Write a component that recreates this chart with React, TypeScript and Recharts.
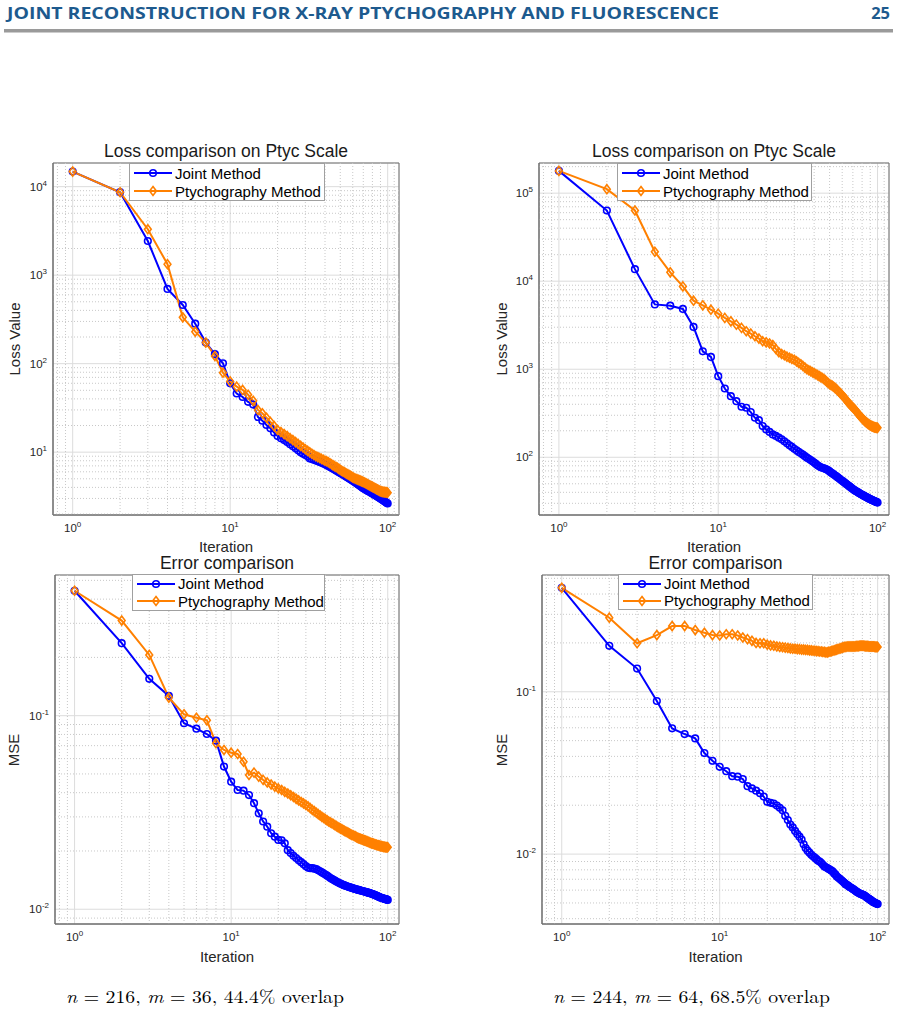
import { LineChart, Line, XAxis, YAxis, CartesianGrid, ReferenceLine, ReferenceArea, Legend } from 'recharts';

const FONT = '"Liberation Sans", Arial, Helvetica, sans-serif';
const JOINT_COLOR = '#0000ff';
const PTYC_COLOR = '#ff8000';

// iteration is the position in each array (1..100)
const lossJointA = [
  14800, 8650, 2430, 698, 460, 283, 173, 128, 101, 60,
  46, 42, 37, 34.5, 25, 22.7, 20.3, 18.6, 16.7, 15.2,
  14.4, 13.7, 13.0, 12.3, 11.7, 11.1, 10.5, 10.0, 9.6, 9.3,
  9.0, 8.5, 8.35, 8.2, 8.05, 7.9, 7.75, 7.6, 7.45, 7.3,
  7.13, 6.97, 6.81, 6.66, 6.51, 6.36, 6.22, 6.08, 5.94, 5.8,
  5.69, 5.58, 5.47, 5.36, 5.25, 5.15, 5.05, 4.95, 4.85, 4.76,
  4.66, 4.57, 4.48, 4.39, 4.31, 4.22, 4.14, 4.06, 3.98, 3.9,
  3.85, 3.8, 3.75, 3.7, 3.65, 3.6, 3.56, 3.51, 3.46, 3.42,
  3.37, 3.33, 3.29, 3.24, 3.2, 3.16, 3.12, 3.08, 3.04, 3.0,
  2.96, 2.92, 2.88, 2.84, 2.81, 2.77, 2.73, 2.7, 2.66, 2.63,
];
const lossPtycA = [
  14800, 8650, 3300, 1330, 334, 230, 173, 122, 79, 63,
  55, 50.5, 44.5, 38, 30, 27.5, 24.5, 22, 19.7, 17.8,
  16.9, 16.0, 15.2, 14.4, 13.7, 13.0, 12.4, 11.8, 11.3, 10.8,
  10.35, 9.95, 9.6, 9.3, 9.0, 8.8, 8.6, 8.4, 8.2, 8.0,
  7.9, 7.7, 7.5, 7.3, 7.1, 6.95, 6.8, 6.65, 6.48, 6.3,
  6.17, 6.05, 5.93, 5.82, 5.71, 5.6, 5.5, 5.4, 5.3, 5.2,
  5.12, 5.04, 4.98, 4.92, 4.87, 4.82, 4.76, 4.7, 4.65, 4.6,
  4.54, 4.48, 4.42, 4.37, 4.31, 4.26, 4.2, 4.15, 4.1, 4.05,
  4.0, 3.96, 3.91, 3.87, 3.83, 3.78, 3.74, 3.7, 3.66, 3.63,
  3.6, 3.58, 3.56, 3.55, 3.54, 3.53, 3.52, 3.51, 3.5, 3.49,
];
const lossJointB = [
  179000, 63500, 13700, 5450, 5270, 4840, 3020, 1600, 1380, 834,
  604, 494, 434, 375, 365, 326, 281, 264, 226, 207,
  194, 182, 175, 167, 160, 152, 144, 137, 131, 125,
  120, 115, 111, 107, 103, 99, 96, 93, 90, 87,
  84, 81, 79, 77, 76, 75, 74, 72.5, 71, 69,
  67, 65.5, 64, 62.5, 61, 59.5, 58, 56.5, 55.2, 54.0,
  52.8, 51.6, 50.5, 49.4, 48.3, 47.3, 46.3, 45.3, 44.4, 43.5,
  42.7, 42.0, 41.4, 40.8, 40.2, 39.6, 39.0, 38.5, 38.0, 37.5,
  37.0, 36.6, 36.1, 35.7, 35.3, 34.9, 34.5, 34.1, 33.8, 33.4,
  33.1, 32.8, 32.5, 32.2, 31.9, 31.6, 31.4, 31.1, 30.9, 30.6,
];
const lossPtycB = [
  179000, 111000, 63500, 21600, 12600, 8730, 6010, 5320, 4750, 4280,
  3830, 3500, 3210, 2950, 2700, 2540, 2370, 2230, 2080, 2020,
  1960, 1880, 1700, 1560, 1490, 1440, 1390, 1350, 1310, 1280,
  1230, 1180, 1140, 1090, 1045, 1000, 975, 950, 925, 900,
  880, 858, 836, 815, 795, 775, 748, 722, 697, 675,
  662, 648, 632, 615, 596, 578, 560, 542, 524, 506,
  490, 474, 458, 440, 425, 412, 400, 388, 378, 368,
  358, 348, 338, 328, 318, 308, 299, 291, 284, 277,
  271, 265, 259, 254, 249, 245, 241, 237, 234, 231,
  228, 226, 224, 222, 220, 219, 218, 217, 216.5, 216,
];
const mseJointA = [
  0.442, 0.237, 0.155, 0.1265, 0.0914, 0.0857, 0.0804, 0.0743, 0.0546, 0.0456,
  0.0413, 0.041, 0.0389, 0.0353, 0.0313, 0.0284, 0.0267, 0.0247, 0.0237, 0.0228,
  0.0227, 0.0219, 0.0202, 0.0195, 0.0189, 0.0184, 0.0179, 0.0175, 0.0171, 0.0167,
  0.0164, 0.0163, 0.0163, 0.0162, 0.0161, 0.0159, 0.0157, 0.0155, 0.0153, 0.0151,
  0.0149, 0.0147, 0.0145, 0.01435, 0.0142, 0.01405, 0.0139, 0.01378, 0.01366, 0.01355,
  0.01345, 0.01336, 0.01328, 0.0132, 0.01313, 0.01306, 0.013, 0.01294, 0.01288, 0.01282,
  0.01277, 0.01272, 0.01267, 0.01262, 0.01258, 0.01254, 0.0125, 0.01246, 0.01242, 0.01238,
  0.01234, 0.0123, 0.01226, 0.01222, 0.01218, 0.01214, 0.0121, 0.01206, 0.01202, 0.01198,
  0.01193, 0.01188, 0.01183, 0.01178, 0.01173, 0.01168, 0.01163, 0.01158, 0.01153, 0.01148,
  0.01145, 0.01142, 0.01139, 0.01136, 0.01133, 0.0113, 0.01127, 0.01124, 0.0112, 0.01117,
];
const msePtycA = [
  0.442, 0.31, 0.206, 0.124, 0.1016, 0.0976, 0.0946, 0.072, 0.0665, 0.0644,
  0.0634, 0.0578, 0.0494, 0.0508, 0.0484, 0.0466, 0.0452, 0.0441, 0.043, 0.0421,
  0.0413, 0.0404, 0.0396, 0.0388, 0.038, 0.0372, 0.0365, 0.0358, 0.0352, 0.0346,
  0.034, 0.0333, 0.0326, 0.0321, 0.0315, 0.031, 0.0305, 0.03, 0.0296, 0.0292,
  0.0288, 0.0284, 0.0281, 0.0278, 0.0275, 0.0272, 0.0269, 0.0266, 0.0263, 0.0261,
  0.0259, 0.0256, 0.0254, 0.0252, 0.025, 0.0248, 0.0246, 0.0244, 0.0242, 0.0241,
  0.0239, 0.0238, 0.0236, 0.0234, 0.0233, 0.0232, 0.0231, 0.023, 0.0229, 0.0228,
  0.0227, 0.0226, 0.0225, 0.0224, 0.0223, 0.0222, 0.0221, 0.022, 0.0219, 0.0219,
  0.0218, 0.0217, 0.0216, 0.0216, 0.0215, 0.0214, 0.0214, 0.0213, 0.0213, 0.0212,
  0.0212, 0.0211, 0.0211, 0.021, 0.021, 0.021, 0.0209, 0.0209, 0.0209, 0.0209,
];
const mseJointB = [
  0.437, 0.192, 0.139, 0.0877, 0.0595, 0.0549, 0.0516, 0.0419, 0.0376, 0.0345,
  0.0324, 0.0302, 0.03, 0.029, 0.0262, 0.0254, 0.0246, 0.0237, 0.0226, 0.021,
  0.0207, 0.0205, 0.0199, 0.0193, 0.0186, 0.0172, 0.0162, 0.0152, 0.0146, 0.0139,
  0.0133, 0.0128, 0.0123, 0.0115, 0.0109, 0.0105, 0.0102, 0.0099, 0.0097, 0.0095,
  0.0093, 0.0091, 0.009, 0.0088, 0.0086, 0.0084, 0.0083, 0.0082, 0.0081, 0.008,
  0.0079, 0.0078, 0.0076, 0.0075, 0.0073, 0.0072, 0.0071, 0.007, 0.0069, 0.0068,
  0.0067, 0.0066, 0.0065, 0.00645, 0.0064, 0.0063, 0.00625, 0.0062, 0.00614, 0.00608,
  0.00602, 0.00596, 0.0059, 0.00585, 0.0058, 0.00576, 0.00572, 0.00568, 0.00565, 0.00562,
  0.0056, 0.00558, 0.00553, 0.00548, 0.00543, 0.00538, 0.00534, 0.0053, 0.00526, 0.00522,
  0.00518, 0.00514, 0.0051, 0.00507, 0.00504, 0.00501, 0.00499, 0.00496, 0.00494, 0.00492,
];
const msePtycB = [
  0.437, 0.286, 0.199, 0.2235, 0.254, 0.254, 0.24, 0.231, 0.2235, 0.222,
  0.226, 0.226, 0.222, 0.216, 0.211, 0.206, 0.2, 0.199, 0.199, 0.195,
  0.193, 0.192, 0.19, 0.189, 0.188, 0.187, 0.186, 0.185, 0.184, 0.184,
  0.183, 0.183, 0.182, 0.182, 0.181, 0.181, 0.18, 0.18, 0.179, 0.179,
  0.178, 0.178, 0.177, 0.177, 0.176, 0.176, 0.175, 0.175, 0.176, 0.177,
  0.178, 0.179, 0.18, 0.181, 0.182, 0.183, 0.184, 0.185, 0.186, 0.187,
  0.188, 0.189, 0.189, 0.19, 0.19, 0.19, 0.19, 0.19, 0.19, 0.19,
  0.19, 0.19, 0.191, 0.191, 0.191, 0.191, 0.192, 0.192, 0.192, 0.192,
  0.192, 0.192, 0.191, 0.191, 0.191, 0.191, 0.191, 0.19, 0.19, 0.19,
  0.19, 0.19, 0.19, 0.19, 0.19, 0.189, 0.189, 0.189, 0.189, 0.189,
];

const xDomain = [0.75, 118];
const xTicks = [1, 10, 100];
const xMinor = [0.8, 0.9, 2, 3, 4, 5, 6, 7, 8, 9, 20, 30, 40, 50, 60, 70, 80, 90, 110];

const lossTicksA = [10, 100, 1000, 10000];
const lossMinorA = [2, 3, 4, 5, 6, 7, 8, 9, 20, 30, 40, 50, 60, 70, 80, 90, 200, 300, 400, 500, 600, 700, 800, 900, 2000, 3000, 4000, 5000, 6000, 7000, 8000, 9000];
const lossTicksB = [100, 1000, 10000, 100000];
const lossMinorB = [30, 40, 50, 60, 70, 80, 90, 200, 300, 400, 500, 600, 700, 800, 900, 2000, 3000, 4000, 5000, 6000, 7000, 8000, 9000, 20000, 30000, 40000, 50000, 60000, 70000, 80000, 90000, 200000];
const mseTicks = [0.01, 0.1];
const mseMinorA = [0.009, 0.02, 0.03, 0.04, 0.05, 0.06, 0.07, 0.08, 0.09, 0.2, 0.3, 0.4, 0.5];
const mseMinorB = [0.004, 0.005, 0.006, 0.007, 0.008, 0.009, 0.02, 0.03, 0.04, 0.05, 0.06, 0.07, 0.08, 0.09, 0.2, 0.3, 0.4, 0.5];

const panels = [
  {
    id: 'a', title: 'Loss comparison on Ptyc Scale', yLabel: 'Loss Value',
    joint: lossJointA, ptyc: lossPtycA, yDomain: [1.95, 18500], yTicks: lossTicksA, yMinor: lossMinorA,
    frame: { x0: 53, y0: 163, x1: 399, y1: 515 }, titleY: 152, xLabelY: 546, yLabelX: 14,
    legend: { x: 129, y: 163, w: 196, h: 38 },
  },
  {
    id: 'b', title: 'Loss comparison on Ptyc Scale', yLabel: 'Loss Value',
    joint: lossJointB, ptyc: lossPtycB, yDomain: [22.1, 220000], yTicks: lossTicksB, yMinor: lossMinorB,
    frame: { x0: 539, y0: 163, x1: 889, y1: 515 }, titleY: 152, xLabelY: 546, yLabelX: 501,
    legend: { x: 617, y: 163, w: 195, h: 38 },
  },
  {
    id: 'c', title: 'Error comparison', yLabel: 'MSE',
    joint: mseJointA, ptyc: msePtycA, yDomain: [0.00839, 0.533], yTicks: mseTicks, yMinor: mseMinorA,
    frame: { x0: 55, y0: 575, x1: 399, y1: 924 }, titleY: 564, xLabelY: 956, yLabelX: 13,
    legend: { x: 132, y: 574, w: 193, h: 37 },
  },
  {
    id: 'd', title: 'Error comparison', yLabel: 'MSE',
    joint: mseJointB, ptyc: msePtycB, yDomain: [0.00371, 0.524], yTicks: mseTicks, yMinor: mseMinorB,
    frame: { x0: 542, y0: 575, x1: 889, y1: 924 }, titleY: 564, xLabelY: 956, yLabelX: 501,
    legend: { x: 618, y: 574, w: 195, h: 36 },
  },
];

const PowerTick = (props: any) => {
  const { x, y, payload, side } = props;
  const exp = Math.round(Math.log10(payload.value));
  const isY = side === 'y';
  return (
    <text x={x} y={isY ? y + 4 : y + 11} textAnchor={isY ? 'end' : 'middle'} fontFamily={FONT} fontSize={11.5} fill="#262626">
      10<tspan dy={-5} fontSize={8}>{exp}</tspan>
    </text>
  );
};

const circleDot = (props: any) => {
  const { cx, cy, index } = props;
  if (cx == null || cy == null) return <g key={'jc' + index} />;
  return <circle key={'jc' + index} cx={cx} cy={cy} r={3.3} fill="none" stroke={JOINT_COLOR} strokeWidth={1.6} />;
};

const diamondDot = (props: any) => {
  const { cx, cy, index } = props;
  if (cx == null || cy == null) return <g key={'pd' + index} />;
  return (
    <path key={'pd' + index} d={`M${cx},${cy - 4.5}L${cx + 3.4},${cy}L${cx},${cy + 4.5}L${cx - 3.4},${cy}Z`}
      fill="none" stroke={PTYC_COLOR} strokeWidth={1.6} />
  );
};

const LegendBox = ({ w, h, payload }: any) => {
  const items = payload || [];
  return (
    <div style={{ width: w, height: h, boxSizing: 'border-box', border: '1px solid #a0a0a0', background: '#fff',
      fontFamily: FONT, fontSize: 15, color: '#000', lineHeight: 1 }}>
      {items.map((it: any) => (
        <div key={it.value} style={{ display: 'flex', alignItems: 'center', height: (h - 2) / 2 }}>
          <svg width={44} height={16} style={{ display: 'block' }}>
            <line x1={4} y1={8} x2={42} y2={8} stroke={it.color} strokeWidth={2} />
            {it.dataKey === 'joint'
              ? <circle cx={23} cy={8} r={3.3} fill="none" stroke={it.color} strokeWidth={1.6} />
              : <path d="M23,3.5L26.4,8L23,12.5L19.6,8Z" fill="none" stroke={it.color} strokeWidth={1.6} />}
          </svg>
          <span style={{ marginLeft: 1, whiteSpace: 'nowrap' }}>{it.value}</span>
        </div>
      ))}
    </div>
  );
};

const PAD_L = 50;
const PAD_T = 10;
const PAD_R = 10;
const PAD_B = 40;

function Panel({ cfg }: any) {
  const { x0, y0, x1, y1 } = cfg.frame;
  const width = x1 - x0 + PAD_L + PAD_R;
  const height = y1 - y0 + PAD_T + PAD_B;
  const rows = cfg.joint.map((v: number, i: number) => ({ it: i + 1, joint: v, ptyc: cfg.ptyc[i] }));
  const lg = cfg.legend;
  const midX = (x0 + x1) / 2;
  const midY = (y0 + y1) / 2;
  return (
    <>
      <div style={{ position: 'absolute', left: x0 - PAD_L, top: y0 - PAD_T }}>
        <LineChart width={width} height={height} data={rows}
          margin={{ top: PAD_T, right: PAD_R, bottom: PAD_B - 30, left: PAD_L - 45 }}>
          <CartesianGrid stroke="#dcdcdc" />
          {xMinor.map((v) => (
            <ReferenceLine key={'xm' + v} x={v} stroke="#c8c8c8" strokeDasharray="1 2" />
          ))}
          {cfg.yMinor.map((v: number) => (
            <ReferenceLine key={'ym' + v} y={v} stroke="#c8c8c8" strokeDasharray="1 2" />
          ))}
          <XAxis dataKey="it" type="number" scale="log" domain={xDomain} ticks={xTicks} allowDataOverflow
            interval={0} height={30} tickSize={4} tickMargin={2} tickLine={false}
            axisLine={{ stroke: '#6e6e6e' }} tick={<PowerTick side="x" />} />
          <YAxis type="number" scale="log" domain={cfg.yDomain} ticks={cfg.yTicks} allowDataOverflow
            interval={0} width={45} tickSize={4} tickMargin={2} tickLine={false}
            axisLine={{ stroke: '#6e6e6e' }} tick={<PowerTick side="y" />} />
          <ReferenceArea x1={xDomain[0]} x2={xDomain[1]} y1={cfg.yDomain[0]} y2={cfg.yDomain[1]}
            fill="none" fillOpacity={0} stroke="#6e6e6e" ifOverflow="visible" />
          <Line type="linear" dataKey="joint" name="Joint Method" stroke={JOINT_COLOR} strokeWidth={2}
            dot={circleDot} activeDot={false} isAnimationActive={false} />
          <Line type="linear" dataKey="ptyc" name="Ptychography Method" stroke={PTYC_COLOR} strokeWidth={2}
            dot={diamondDot} activeDot={false} isAnimationActive={false} />
          <Legend layout="vertical" align="center" verticalAlign="middle"
            wrapperStyle={{ left: lg.x - (x0 - PAD_L), top: lg.y - (y0 - PAD_T), width: lg.w, height: lg.h }}
            content={(p: any) => <LegendBox w={lg.w} h={lg.h} payload={p.payload} />} />
        </LineChart>
      </div>
      <div style={{ position: 'absolute', left: midX, top: cfg.titleY, transform: 'translate(-50%, -50%)',
        fontFamily: FONT, fontSize: 17.5, color: '#1a1a1a', whiteSpace: 'nowrap', lineHeight: 1 }}>
        {cfg.title}
      </div>
      <div style={{ position: 'absolute', left: midX, top: cfg.xLabelY, transform: 'translate(-50%, -50%)',
        fontFamily: FONT, fontSize: 15, color: '#262626', whiteSpace: 'nowrap', lineHeight: 1 }}>
        Iteration
      </div>
      <div style={{ position: 'absolute', left: cfg.yLabelX, top: midY, transform: 'translate(-50%, -50%) rotate(-90deg)',
        fontFamily: FONT, fontSize: 15, color: '#262626', whiteSpace: 'nowrap', lineHeight: 1 }}>
        {cfg.yLabel}
      </div>
    </>
  );
}

export default function App() {
  const serif = '"Latin Modern Roman", "Liberation Serif", "DejaVu Serif", serif';
  const headFont = '"Open Sans", "Liberation Sans Narrow", "Liberation Sans", sans-serif';
  return (
    <div style={{ position: 'absolute', left: 0, top: 0, width: 898, height: 1014, background: '#fff', overflow: 'hidden' }}>
      <svg width={898} height={40} style={{ position: 'absolute', left: 0, top: 0 }}>
        <text x={7} y={19} fontFamily={headFont} fontWeight="bold" fontSize={16.5} fill="#1d5a8e"
          textLength={712} lengthAdjust="spacingAndGlyphs">
          JOINT RECONSTRUCTION FOR X-RAY PTYCHOGRAPHY AND FLUORESCENCE
        </text>
        <text x={890} y={19} textAnchor="end" fontFamily={headFont} fontWeight="bold" fontSize={16.5} fill="#1d5a8e">25</text>
        <rect x={4} y={29} width={889} height={3.5} fill="#9a9a9a" />
      </svg>
      {panels.map((p) => <Panel key={p.id} cfg={p} />)}
      <svg width={898} height={34} style={{ position: 'absolute', left: 0, top: 980 }}>
        <text x={66} y={23} fontFamily={serif} fontSize={18} fill="#000" textLength={278} lengthAdjust="spacingAndGlyphs">
          <tspan fontStyle="italic">n</tspan> = 216, <tspan fontStyle="italic">m</tspan> = 36, 44.4% overlap
        </text>
        <text x={553} y={23} fontFamily={serif} fontSize={18} fill="#000" textLength={277} lengthAdjust="spacingAndGlyphs">
          <tspan fontStyle="italic">n</tspan> = 244, <tspan fontStyle="italic">m</tspan> = 64, 68.5% overlap
        </text>
      </svg>
    </div>
  );
}
